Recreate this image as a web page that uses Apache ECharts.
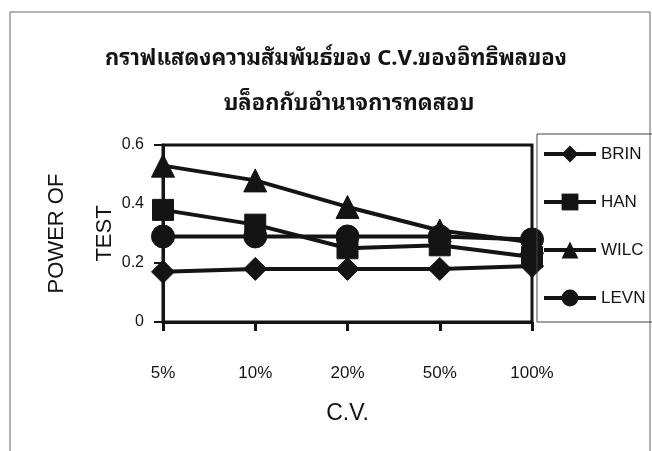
<!DOCTYPE html>
<html>
<head>
<meta charset="utf-8">
<script src="https://cdn.jsdelivr.net/npm/echarts@6/dist/echarts.min.js"></script>
<style>
  html, body { margin: 0; padding: 0; background: #fff; }
  #chart { width: 652px; height: 451px; }
</style>
</head>
<body>
<div id="chart"></div>
<script>
// C.V. levels on the category axis
const categories = ['5%', '10%', '20%', '50%', '100%'];

// Power of test for each method
const brin = [0.17, 0.18, 0.18, 0.18, 0.19];
const han  = [0.38, 0.33, 0.25, 0.26, 0.22];
const wilc = [0.53, 0.48, 0.39, 0.31, 0.27];
const levn = [0.29, 0.29, 0.29, 0.29, 0.28];

const seriesNames = ['BRIN', 'HAN', 'WILC', 'LEVN'];
const seriesSymbols = ['diamond', 'rect', 'triangle', 'circle'];
const seriesValues = [brin, han, wilc, levn];

const yTickLabels = ['0', '0.2', '0.4', '0.6'];

const titleLines = [
  'กราฟแสดงความสัมพันธ์ของ C.V.ของอิทธิพลของ',
  'บล็อกกับอำนาจการทดสอบ'
];

const ink = '#141414';
const fontFamily = "'Liberation Sans', Arial, 'Noto Sans', sans-serif";
const thaiFamily = "'Noto Sans Thai Looped', Loma, Garuda, Tahoma, 'Liberation Sans', Arial, sans-serif";

const chart = echarts.init(document.getElementById('chart'), null, { renderer: 'canvas' });

const titleStyle = {
  fontSize: 22,
  fontWeight: 'bold',
  color: ink,
  fontFamily: thaiFamily
};

chart.setOption({
  backgroundColor: '#ffffff',
  animation: false,
  textStyle: { fontFamily: fontFamily, color: ink },
  title: [
    { text: titleLines[0], left: 336, textAlign: 'center', top: 48, padding: 0, textStyle: titleStyle },
    { text: titleLines[1], left: 349, textAlign: 'center', top: 93, padding: 0, textStyle: titleStyle }
  ],
  legend: {
    orient: 'vertical',
    left: 537,
    top: 134,
    padding: [11.5, 8, 15.5, 5],
    borderColor: '#444',
    borderWidth: 1,
    itemWidth: 52,
    itemHeight: 21,
    itemGap: 31,
    lineStyle: { width: 4, color: ink },
    textStyle: { fontSize: 17, color: ink, fontFamily: fontFamily },
    data: seriesNames
  },
  grid: {
    left: 163,
    right: 120,
    top: 145,
    bottom: 129,
    show: true,
    borderColor: ink,
    borderWidth: 3,
    containLabel: false
  },
  xAxis: {
    type: 'category',
    data: categories,
    boundaryGap: false,
    name: 'C.V.',
    nameLocation: 'middle',
    nameGap: 80,
    nameMoveOverlap: false,
    nameTextStyle: { fontSize: 23, color: ink, fontFamily: fontFamily },
    axisLine: { lineStyle: { color: ink, width: 3 } },
    axisTick: { show: true, inside: false, length: 9, lineStyle: { color: ink, width: 3 } },
    axisLabel: { margin: 43, fontSize: 17, color: ink, fontFamily: fontFamily },
    splitLine: { show: false }
  },
  yAxis: {
    type: 'value',
    min: 0,
    max: 0.6,
    interval: 0.2,
    name: 'POWER OF\nTEST',
    nameLocation: 'middle',
    nameGap: 34,
    nameRotate: 90,
    nameMoveOverlap: false,
    nameTextStyle: { fontSize: 22, color: ink, lineHeight: 48, fontFamily: fontFamily },
    axisLine: { show: true, lineStyle: { color: ink, width: 3 } },
    axisTick: { show: true, inside: false, length: 9, lineStyle: { color: ink, width: 2 } },
    axisLabel: {
      margin: 19,
      fontSize: 16,
      color: ink,
      fontFamily: fontFamily,
      formatter: function (v) { return yTickLabels[Math.round(v / 0.2)]; }
    },
    splitLine: { show: false }
  },
  graphic: [{
    type: 'rect',
    silent: true,
    z: -1,
    shape: { x: 10, y: 12, width: 640, height: 445 },
    style: { fill: 'none', stroke: '#666', lineWidth: 1 }
  }],
  series: seriesNames.map(function (name, i) {
    return {
      name: name,
      type: 'line',
      data: seriesValues[i],
      symbol: seriesSymbols[i],
      symbolSize: seriesSymbols[i] === 'rect' ? 21 : 23,
      showSymbol: true,
      lineStyle: { color: ink, width: 4 },
      itemStyle: { color: ink, borderColor: ink },
      emphasis: { disabled: true }
    };
  })
});
</script>
</body>
</html>
